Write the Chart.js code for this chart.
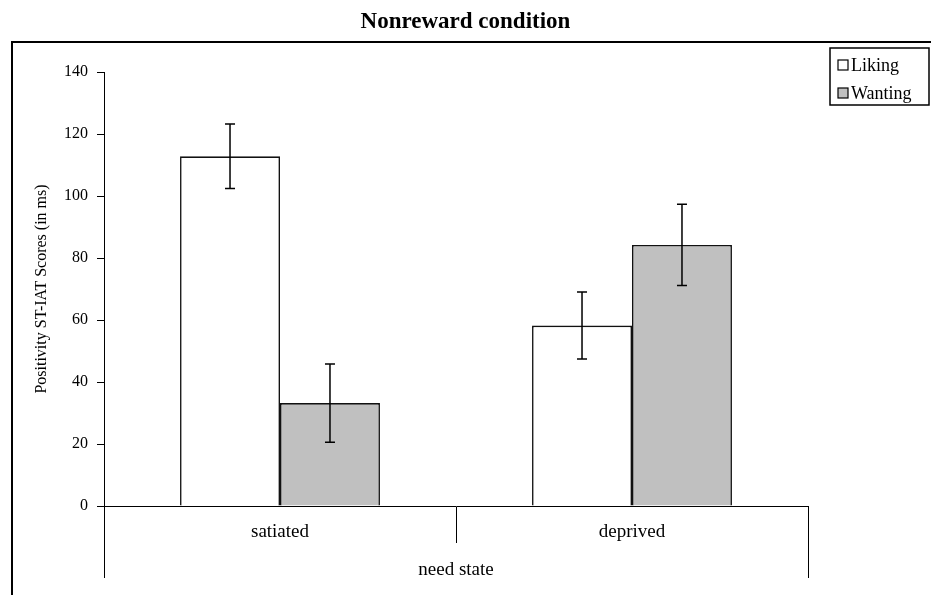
<!DOCTYPE html>
<html><head><meta charset="utf-8">
<script src="https://cdn.jsdelivr.net/npm/chart.js@4.4.1/dist/chart.umd.min.js"></script>
<style>html,body{margin:0;padding:0;background:#fff;overflow:hidden}#wrap{position:relative;width:931px;height:595px}</style>
</head><body><div id="wrap"><canvas id="c" width="931" height="595"></canvas></div>
<script>
const categories = ['satiated', 'deprived'];
const seriesNames = ['Liking', 'Wanting'];
const likingValues = [112.8, 58.2];
const likingErrors = [10.4, 10.8];
const wantingValues = [33.2, 84.2];
const wantingErrors = [12.6, 13.1];
const yMin = 0, yMax = 140, yStep = 20;
const chartTitle = 'Nonreward condition';
const yTitle = 'Positivity ST-IAT Scores (in ms)';
const xTitle = 'need state';

const SERIF = "'Liberation Serif', 'Times New Roman', serif";

const framePlugin = {
  id: 'frame',
  beforeDraw(chart) {
    const ctx = chart.ctx;
    ctx.save();
    ctx.fillStyle = '#fff';
    ctx.fillRect(0, 0, chart.width, chart.height);
    ctx.strokeStyle = '#000';
    ctx.lineWidth = 2;
    ctx.beginPath();
    ctx.moveTo(12, chart.height);
    ctx.lineTo(12, 42);
    ctx.lineTo(chart.width, 42);
    ctx.stroke();
    ctx.restore();
  }
};

const bracketPlugin = {
  id: 'bracket',
  afterDraw(chart) {
    const ctx = chart.ctx;
    const xs = chart.scales.x;
    const left = Math.round(xs.getPixelForValue(-0.5) - 0.5) + 0.5;
    const right = Math.round(xs.getPixelForValue(categories.length - 0.5) - 0.5) + 0.5;
    const y0 = xs.top + xs.options.grid.tickLength - 1;
    ctx.save();
    ctx.strokeStyle = '#000';
    ctx.lineWidth = 1;
    ctx.beginPath();
    ctx.moveTo(left, y0);
    ctx.lineTo(left, 578);
    ctx.moveTo(right, y0);
    ctx.lineTo(right, 578);
    ctx.stroke();
    ctx.restore();
  }
};

const errorBarPlugin = {
  id: 'errorBars',
  afterDatasetsDraw(chart) {
    const ctx = chart.ctx;
    const ys = chart.scales.y;
    ctx.save();
    ctx.strokeStyle = '#000';
    ctx.lineWidth = 1.5;
    chart.data.datasets.forEach((ds, di) => {
      const meta = chart.getDatasetMeta(di);
      meta.data.forEach((bar, i) => {
        const v = ds.data[i], e = ds.errors[i];
        const yt = ys.getPixelForValue(v + e);
        const yb = ys.getPixelForValue(v - e);
        const x = bar.x;
        ctx.beginPath();
        ctx.moveTo(x, yt); ctx.lineTo(x, yb);
        ctx.moveTo(x - 5, yt); ctx.lineTo(x + 5, yt);
        ctx.moveTo(x - 5, yb); ctx.lineTo(x + 5, yb);
        ctx.stroke();
      });
    });
    ctx.restore();
  }
};

const legendPlugin = {
  id: 'boxLegend',
  afterDraw(chart) {
    const ctx = chart.ctx;
    const bx = 830, by = 48, bw = 99, bh = 57;
    ctx.save();
    ctx.strokeStyle = '#000';
    ctx.lineWidth = 1.5;
    ctx.strokeRect(bx, by, bw, bh);
    ctx.font = '18px ' + SERIF;
    ctx.textBaseline = 'middle';
    ctx.textAlign = 'left';
    chart.data.datasets.forEach((ds, i) => {
      const cy = 65 + i * 28;
      ctx.fillStyle = ds.backgroundColor;
      ctx.fillRect(838, cy - 5, 10, 10);
      ctx.lineWidth = 1.2;
      ctx.strokeStyle = '#000';
      ctx.strokeRect(838, cy - 5, 10, 10);
      ctx.fillStyle = '#000';
      ctx.fillText(ds.label, 851, cy + 1);
    });
    ctx.restore();
  }
};

new Chart(document.getElementById('c'), {
  type: 'bar',
  data: {
    labels: categories,
    datasets: [
      { label: seriesNames[0], data: likingValues, errors: likingErrors,
        backgroundColor: '#ffffff', borderColor: '#111', borderWidth: 1.6 },
      { label: seriesNames[1], data: wantingValues, errors: wantingErrors,
        backgroundColor: '#c0c0c0', borderColor: '#111', borderWidth: 1.6 }
    ]
  },
  options: {
    responsive: false,
    devicePixelRatio: 1,
    animation: false,
    layout: { padding: 0 },
    datasets: { bar: { categoryPercentage: 0.568, barPercentage: 1.0 } },
    plugins: {
      legend: { display: false },
      tooltip: { enabled: false },
      title: {
        display: true, text: chartTitle, color: '#000',
        font: { family: SERIF, size: 23, weight: 'bold', lineHeight: 1.2 },
        padding: { top: 8, bottom: 36.4 }
      }
    },
    scales: {
      x: {
        type: 'category',
        position: 'bottom',
        grid: { offset: true, drawOnChartArea: false, drawTicks: true, tickLength: 37, color: '#000', lineWidth: 1 },
        border: { display: true, color: '#000', width: 1 },
        ticks: { color: '#000', font: { family: SERIF, size: 19 }, padding: -22.4, maxRotation: 0 },
        title: { display: true, text: xTitle, color: '#000', font: { family: SERIF, size: 19 }, padding: { top: 0, bottom: 13.6 } },
        afterFit(s) { s.height = 89; }
      },
      y: {
        position: 'left',
        min: yMin, max: yMax,
        grid: { drawOnChartArea: false, drawTicks: true, tickLength: 7, color: '#000', lineWidth: 1 },
        border: { display: true, color: '#000', width: 1 },
        ticks: { stepSize: yStep, color: '#000', font: { family: SERIF, size: 16 }, padding: 9 },
        title: { display: true, text: yTitle, color: '#000', font: { family: SERIF, size: 16 }, padding: { top: 32, bottom: 0 } },
        afterFit(s) { s.width = 104; }
      },
      yR: {
        position: 'right',
        display: true,
        grid: { display: false },
        border: { display: false },
        ticks: { display: false },
        afterFit(s) { s.width = 123; }
      }
    }
  },
  plugins: [framePlugin, errorBarPlugin, bracketPlugin, legendPlugin]
});
</script></body></html>
